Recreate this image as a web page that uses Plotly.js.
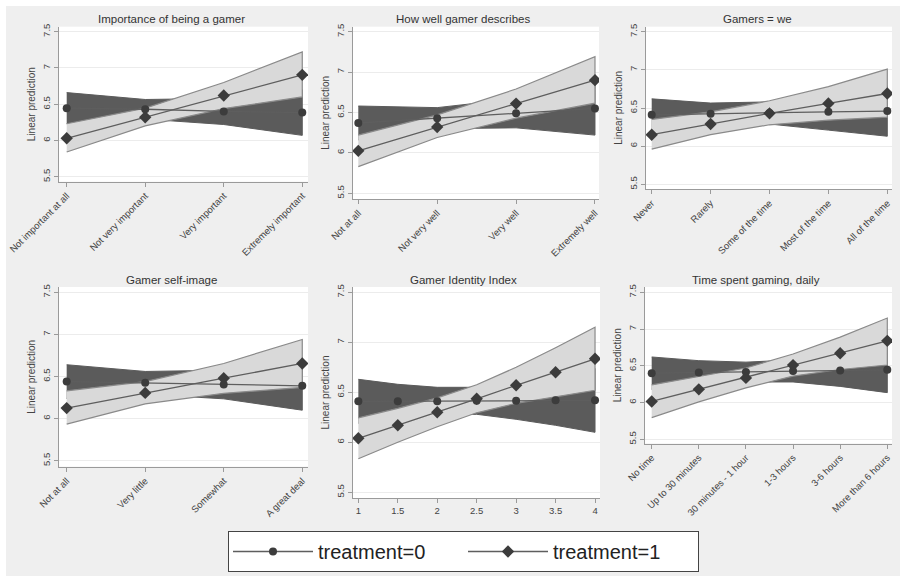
<!DOCTYPE html>
<html>
<head>
<meta charset="utf-8">
<script src="https://cdn.plot.ly/plotly-3.0.1.min.js"></script>
<style>html,body{margin:0;padding:0;background:#efefef;}#chart{width:900px;height:576px;}</style>
</head>
<body>
<div id="chart"></div>
<script>
// ---------- Data ----------
const seriesNames = ["treatment=0", "treatment=1"];
const panelTitles = ["Importance of being a gamer", "How well gamer describes", "Gamers = we",
                     "Gamer self-image", "Gamer Identity Index", "Time spent gaming, daily"];
const yTitle = "Linear prediction";

// Panel 1
const cats1 = ["Not important at all", "Not very important", "Very important", "Extremely important"];
const p1_t0 = [6.445, 6.43, 6.40, 6.385];
const p1_t0_lo = [6.23, 6.295, 6.22, 6.07];
const p1_t0_hi = [6.66, 6.565, 6.58, 6.70];
const p1_t1 = [6.03, 6.32, 6.62, 6.905];
const p1_t1_lo = [5.84, 6.20, 6.44, 6.60];
const p1_t1_hi = [6.23, 6.445, 6.80, 7.22];

// Panel 2
const cats2 = ["Not at all", "Not very well", "Very well", "Extremely well"];
const p2_t0 = [6.37, 6.43, 6.49, 6.55];
const p2_t0_lo = [6.16, 6.30, 6.31, 6.22];
const p2_t0_hi = [6.58, 6.56, 6.67, 6.88];
const p2_t1 = [6.025, 6.32, 6.61, 6.90];
const p2_t1_lo = [5.83, 6.19, 6.43, 6.615];
const p2_t1_hi = [6.22, 6.47, 6.79, 7.19];

// Panel 3
const cats3 = ["Never", "Rarely", "Some of the time", "Most of the time", "All of the time"];
const p3_t0 = [6.41, 6.425, 6.435, 6.45, 6.46];
const p3_t0_lo = [6.20, 6.285, 6.29, 6.21, 6.13];
const p3_t0_hi = [6.62, 6.565, 6.58, 6.69, 6.79];
const p3_t1 = [6.15, 6.29, 6.43, 6.56, 6.69];
const p3_t1_lo = [5.96, 6.15, 6.28, 6.34, 6.38];
const p3_t1_hi = [6.35, 6.45, 6.595, 6.78, 7.01];

// Panel 4
const cats4 = ["Not at all", "Very little", "Somewhat", "A great deal"];
const p4_t0 = [6.44, 6.425, 6.405, 6.39];
const p4_t0_lo = [6.24, 6.29, 6.235, 6.10];
const p4_t0_hi = [6.64, 6.56, 6.575, 6.68];
const p4_t1 = [6.125, 6.305, 6.48, 6.655];
const p4_t1_lo = [5.935, 6.175, 6.30, 6.37];
const p4_t1_hi = [6.33, 6.44, 6.655, 6.94];

// Panel 5
const xs5 = [1, 1.5, 2, 2.5, 3, 3.5, 4];
const p5_t0 = [6.41, 6.41, 6.41, 6.415, 6.415, 6.42, 6.42];
const p5_t0_lo = [6.19, 6.24, 6.27, 6.28, 6.23, 6.17, 6.10];
const p5_t0_hi = [6.63, 6.58, 6.55, 6.55, 6.60, 6.67, 6.74];
const p5_t1 = [6.04, 6.17, 6.30, 6.435, 6.57, 6.70, 6.835];
const p5_t1_lo = [5.835, 6.00, 6.155, 6.295, 6.39, 6.455, 6.52];
const p5_t1_hi = [6.245, 6.34, 6.445, 6.575, 6.75, 6.945, 7.15];

// Panel 6
const cats6 = ["No time", "Up to 30 minutes", "30 minutes - 1 hour", "1-3 hours", "3-6 hours", "More than 6 hours"];
const p6_t0 = [6.40, 6.41, 6.415, 6.43, 6.435, 6.445];
const p6_t0_lo = [6.18, 6.25, 6.28, 6.28, 6.22, 6.135];
const p6_t0_hi = [6.62, 6.57, 6.55, 6.58, 6.65, 6.755];
const p6_t1 = [6.015, 6.18, 6.335, 6.51, 6.67, 6.84];
const p6_t1_lo = [5.795, 6.01, 6.20, 6.36, 6.45, 6.51];
const p6_t1_hi = [6.24, 6.35, 6.47, 6.66, 6.89, 7.15];

const yTicks = [5.5, 6, 6.5, 7, 7.5];

// ---------- Layout geometry (pixels in a 900x576 canvas) ----------
const W = 900, H = 576;
const panels = [
  {x: cats1, t0: p1_t0, t0lo: p1_t0_lo, t0hi: p1_t0_hi, t1: p1_t1, t1lo: p1_t1_lo, t1hi: p1_t1_hi,
   px: [59, 308], py: [26.7, 181.7], xr: [-0.098, 3.073], yr: [5.431, 7.569], title: [171, 19], cat: true},
  {x: cats2, t0: p2_t0, t0lo: p2_t0_lo, t0hi: p2_t0_hi, t1: p2_t1, t1lo: p2_t1_lo, t1hi: p2_t1_hi,
   px: [353, 599], py: [26.7, 199], xr: [-0.067, 3.051], yr: [5.429, 7.562], title: [463, 19], cat: true},
  {x: cats3, t0: p3_t0, t0lo: p3_t0_lo, t0hi: p3_t0_hi, t1: p3_t1, t1lo: p3_t1_lo, t1hi: p3_t1_hi,
   px: [645.7, 892], py: [26.7, 189], xr: [-0.102, 4.08], yr: [5.438, 7.566], title: [757, 19], cat: true},
  {x: cats4, t0: p4_t0, t0lo: p4_t0_lo, t0hi: p4_t0_hi, t1: p4_t1, t1lo: p4_t1_lo, t1hi: p4_t1_hi,
   px: [58.5, 308], py: [287, 466.7], xr: [-0.104, 3.073], yr: [5.429, 7.563], title: [171, 280], cat: true},
  {x: xs5, t0: p5_t0, t0lo: p5_t0_lo, t0hi: p5_t0_hi, t1: p5_t1, t1lo: p5_t1_lo, t1hi: p5_t1_hi,
   px: [352.5, 600], py: [287, 498], xr: [0.926, 4.063], yr: [5.443, 7.553], title: [463, 280], cat: false},
  {x: cats6, t0: p6_t0, t0lo: p6_t0_lo, t0hi: p6_t0_hi, t1: p6_t1, t1lo: p6_t1_lo, t1hi: p6_t1_hi,
   px: [645, 892], py: [287, 443.5], xr: [-0.142, 5.10], yr: [5.443, 7.572], title: [756, 280], cat: true}
];

const FONT = "Liberation Sans, Arial, Helvetica, sans-serif";
const DARK_FILL = "#5b5b5b";
const LIGHT_FILL = "#d9d9d9";
const LIGHT_EDGE = "#8a8a8a";
const LINE_COL = "#5e5e5e";
const MARK_COL = "#3c3c3c";

const traces = [];
const layout = {
  width: W, height: H,
  margin: {l: 0, r: 0, t: 0, b: 0},
  paper_bgcolor: "#efefef",
  plot_bgcolor: "#ffffff",
  font: {family: FONT, color: "#444"},
  showlegend: true,
  legend: {
    orientation: "h", x: 463.5 / W, xanchor: "center", y: 1 - 551.5 / H, yanchor: "middle",
    bgcolor: "#ffffff", bordercolor: "#444", borderwidth: 1,
    font: {family: FONT, size: 20, color: "#222"},
    entrywidth: 140, entrywidthmode: "pixels", itemwidth: 80
  },
  annotations: [],
  shapes: [
    {type: "rect", xref: "paper", yref: "paper", x0: 0, x1: 1, y0: 1 - 6 / H, y1: 1,
     fillcolor: "#ffffff", line: {width: 0}, layer: "below"},
    {type: "rect", xref: "paper", yref: "paper", x0: 0, x1: 6 / W, y0: 0, y1: 1,
     fillcolor: "#ffffff", line: {width: 0}, layer: "below"}
  ]
};

panels.forEach((p, i) => {
  const n = i + 1;
  const xa = "x" + (n === 1 ? "" : n), ya = "y" + (n === 1 ? "" : n);
  const xk = "xaxis" + (n === 1 ? "" : n), yk = "yaxis" + (n === 1 ? "" : n);
  const xBand = p.x.concat(p.x.slice().reverse());

  // CI band treatment=0 (dark)
  traces.push({
    x: xBand, y: p.t0hi.concat(p.t0lo.slice().reverse()), xaxis: xa, yaxis: ya,
    type: "scatter", mode: "lines", fill: "toself", fillcolor: DARK_FILL,
    line: {color: DARK_FILL, width: 1}, showlegend: false, hoverinfo: "skip"
  });
  // CI band treatment=1 (light)
  traces.push({
    x: xBand, y: p.t1hi.concat(p.t1lo.slice().reverse()), xaxis: xa, yaxis: ya,
    type: "scatter", mode: "lines", fill: "toself", fillcolor: LIGHT_FILL,
    line: {color: LIGHT_EDGE, width: 1.2}, showlegend: false, hoverinfo: "skip"
  });
  // treatment=0 line
  traces.push({
    x: p.x, y: p.t0, xaxis: xa, yaxis: ya, type: "scatter", mode: "lines+markers",
    name: seriesNames[0], legendgroup: "t0", showlegend: n === 1,
    line: {color: LINE_COL, width: 1.3},
    marker: {symbol: "circle", size: 8, color: MARK_COL}
  });
  // treatment=1 line
  traces.push({
    x: p.x, y: p.t1, xaxis: xa, yaxis: ya, type: "scatter", mode: "lines+markers",
    name: seriesNames[1], legendgroup: "t1", showlegend: n === 1,
    line: {color: LINE_COL, width: 1.3},
    marker: {symbol: "diamond", size: 9.5, color: MARK_COL}
  });

  layout[xk] = {
    domain: [p.px[0] / W, p.px[1] / W], anchor: ya,
    type: p.cat ? "category" : "linear",
    range: p.xr, fixedrange: true,
    showline: true, linecolor: "#9a9a9a", linewidth: 1,
    ticks: "outside", ticklen: 4, tickcolor: "#9a9a9a",
    showgrid: false, zeroline: false,
    tickangle: p.cat ? -45 : 0,
    tickfont: {family: FONT, size: 9.5, color: "#444"}
  };
  if (!p.cat) { layout[xk].tickvals = xs5; layout[xk].ticktext = xs5.map(String); }

  layout[yk] = {
    domain: [1 - p.py[1] / H, 1 - p.py[0] / H], anchor: xa,
    range: p.yr, fixedrange: true,
    tickvals: yTicks, ticktext: yTicks.map(String),
    showline: true, linecolor: "#9a9a9a", linewidth: 1,
    ticks: "outside", ticklen: 4, tickcolor: "#9a9a9a",
    showgrid: true, gridcolor: "#ececec", gridwidth: 1, zeroline: false,
    tickangle: -90,
    tickfont: {family: FONT, size: 9.5, color: "#444"},
    title: {text: yTitle, font: {family: FONT, size: 10, color: "#444"}, standoff: 3}
  };

  layout.annotations.push({
    text: panelTitles[i], xref: "paper", yref: "paper",
    x: p.title[0] / W, y: 1 - p.title[1] / H, xanchor: "center", yanchor: "middle",
    showarrow: false, font: {family: FONT, size: 11.5, color: "#333"}
  });
});

Plotly.newPlot("chart", traces, layout, {staticPlot: true, displayModeBar: false});
</script>
</body>
</html>
